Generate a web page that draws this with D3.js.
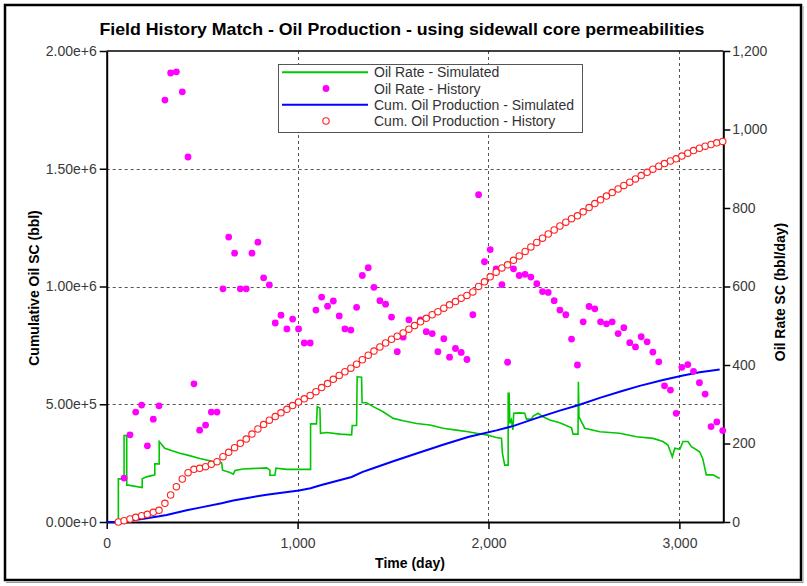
<!DOCTYPE html>
<html><head><meta charset="utf-8">
<script src="https://cdn.jsdelivr.net/npm/d3@7"></script>
<style>body{margin:0;background:#fff}svg{display:block}</style>
</head><body><svg id="c" width="807" height="586"></svg>
<script>
const chartTitle = "Field History Match - Oil Production - using sidewall core permeabilities";
const xTitle = "Time (day)";
const leftTitle = "Cumulative Oil SC (bbl)";
const rightTitle = "Oil Rate SC (bbl/day)";
const legendLabels = ["Oil Rate - Simulated","Oil Rate - History","Cum. Oil Production - Simulated","Cum. Oil Production - History"];

const xTicks = [0,1000,2000,3000];
const leftTicks = [0,500000,1000000,1500000,2000000];
const leftTickLabels = ["0.00e+0","5.00e+5","1.00e+6","1.50e+6","2.00e+6"];
const rightTicks = [0,200,400,600,800,1000,1200];

// monthly history dates (days)
const historyDays = [61,91,122,152,183,213,244,274,305,335,
 365,396,426,457,487,518,548,578,609,639,
 670,700,731,761,792,822,852,883,913,944,
 974,1005,1035,1066,1096,1126,1157,1187,1218,1248,
 1279,1309,1339,1370,1400,1431,1461,1492,1522,1553,
 1583,1613,1644,1674,1705,1735,1766,1796,1827,1857,
 1887,1918,1948,1979,2009,2040,2070,2100,2131,2161,
 2192,2222,2253,2283,2313,2344,2374,2405,2435,2466,
 2496,2527,2557,2587,2618,2648,2679,2709,2740,2770,
 2800,2831,2861,2892,2922,2953,2983,3013,3044,3074,
 3105,3135,3166,3196,3227];

// Oil rate history (bbl/day)
const rateHistory = [null,112,222,280,298,194,262,296,1075,1144,
 1147,1096,930,352,234,247,280,280,594,726,
 685,594,594,685,713,622,604,507,527,492,
 517,492,456,456,540,573,550,563,525,492,
 489,547,628,648,598,564,555,522,434,471,
 515,500,515,485,480,434,467,420,442,432,
 414,528,834,663,694,645,605,407,645,628,
 631,624,607,587,585,564,540,528,466,400,
 510,549,543,510,505,510,480,495,457,446,
 472,459,433,408,347,336,277,394,401,384,
 355,326,243,255,233];

// Cumulative oil production history (bbl)
const cumHistory = [0,5500,12700,20000,26800,32700,41200,49700,79400,114600,
 149900,182600,209300,223800,228000,234800,245000,256000,277300,296000,
 315500,334200,352300,373200,394900,413800,432200,447600,463600,478600,
 494300,509300,523200,537100,553500,570900,588000,606000,622000,638000,
 653000,670000,689000,708000,726000,743000,760000,776000,789000,803000,
 819000,834000,850000,865000,880000,893000,908000,922000,936000,950000,
 962000,977000,1000000,1020000,1041000,1061000,1079000,1092000,1111000,1130000,
 1149000,1168000,1187000,1205000,1223000,1240000,1257000,1273000,1288000,1300000,
 1317000,1335000,1352000,1368000,1384000,1399000,1414000,1429000,1443000,1457000,
 1471000,1485000,1498000,1511000,1522000,1533000,1542000,1554000,1566000,1577000,
 1587000,1596000,1603000,1610000,1616000];

// Simulated oil rate (bbl/day)
const rateSimDays = [61,61,91,91,105,105,113,186,186,209,252,252,275,275,304,339,383,419,488,558,
 602,607,646,663,672,715,838,855,855,881,887,942,1068,1068,1099,1103,1117,1120,1152,1223,
 1283,1286,1309,1312,1335,1338,1361,1396,1448,1501,1553,1623,1693,1762,1832,1893,1937,1990,2007,2037,
 2068,2073,2085,2103,2103,2108,2112,2120,2128,2132,2164,2190,2199,2225,2234,2260,2286,2321,2373,2435,
 2443,2469,2471,2474,2504,2583,2687,2775,2862,2914,2940,2963,2976,3002,3019,3045,3063,3106,3122,3141,
 3176,3211];
const rateSimValues = [0,110,110,220,220,94,94,88,110,115,120,148,148,205,188,182,175,171,162,154,
 151,132,126,122,131,135,138,132,119,119,137,134,134,250,250,294,290,226,228,224,
 222,246,246,370,369,304,304,294,281,264,258,251,247,239,234,230,226,222,220,216,
 213,175,145,145,328,328,251,260,235,277,278,277,262,262,270,277,268,260,253,240,
 224,224,357,268,239,230,226,217,213,205,196,166,188,185,205,205,192,179,162,120,
 120,111];

// Simulated cumulative oil production (bbl)
const cumSimDays = [0,61,105,186,275,314,419,488,602,663,715,838,887,1007,1068,1120,1283,1338,1396,1501,
 1623,1762,1893,2042,2132,2251,2373,2469,2583,2700,2792,2914,3019,3106,3211];
const cumSimValues = [0,0,5000,13000,24000,30000,50000,61000,80000,91000,99000,116000,121000,134000,143000,156000,191000,212000,228000,258000,
 291000,328000,361000,389000,408000,441000,473000,496000,527000,556000,578000,603000,622000,636000,648000];

const svg = d3.select("#c");
const L = 106.7, R = 723.3, T = 51, B = 522;
const x = d3.scaleLinear().domain([0,3230]).range([L,R]);
const yL = d3.scaleLinear().domain([0,2000000]).range([B,T]);
const yR = d3.scaleLinear().domain([0,1200]).range([B,T]);
const FONT = "'Liberation Sans', Arial, sans-serif";

// outer frame
svg.append("rect").attr("x",0).attr("y",0).attr("width",807).attr("height",586).attr("fill","#fff");
svg.append("rect").attr("x",5).attr("y",5).attr("width",796).attr("height",575)
  .attr("fill","none").attr("stroke","#000").attr("stroke-width",2.5);
svg.append("line").attr("x1",6).attr("x2",803).attr("y1",582.5).attr("y2",582.5).attr("stroke","#999").attr("stroke-width",1);
svg.append("line").attr("x1",803).attr("x2",803).attr("y1",6).attr("y2",583).attr("stroke","#999").attr("stroke-width",1);

// title
svg.append("text").attr("x",402).attr("y",35).attr("text-anchor","middle")
  .attr("font-family",FONT).attr("font-weight","bold").attr("font-size",17)
  .attr("textLength",605).attr("lengthAdjust","spacingAndGlyphs")
  .attr("fill","#000").text(chartTitle);

// grid
const grid = svg.append("g").attr("stroke","#555").attr("stroke-width",1).attr("stroke-dasharray","3,3");
leftTicks.filter(v=>v>0 && v<2000000).forEach(v=>{
  grid.append("line").attr("x1",L).attr("x2",R).attr("y1",Math.round(yL(v))+0.5).attr("y2",Math.round(yL(v))+0.5);
});
xTicks.filter(v=>v>0).forEach(v=>{
  grid.append("line").attr("y1",T).attr("y2",B).attr("x1",Math.round(x(v))+0.5).attr("x2",Math.round(x(v))+0.5);
});

// axes
function styleAxis(g){
  g.selectAll("text").attr("font-family",FONT).attr("font-size",14).attr("fill","#3a3a3a");
  g.selectAll("line").attr("stroke","#000").attr("stroke-width",1.5);
  g.select(".domain").attr("stroke","#000").attr("stroke-width",2);
}
svg.append("g").attr("transform",`translate(${L},0)`)
  .call(d3.axisLeft(yL).tickValues(leftTicks).tickFormat((d,i)=>leftTickLabels[i]).tickSize(7).tickSizeOuter(0).tickPadding(3))
  .call(styleAxis);
svg.append("g").attr("transform",`translate(${R},0)`)
  .call(d3.axisRight(yR).tickValues(rightTicks).tickFormat(d3.format(",")).tickSize(7).tickSizeOuter(0).tickPadding(2))
  .call(styleAxis);
svg.append("g").attr("transform",`translate(0,${B})`)
  .call(d3.axisBottom(x).tickValues(xTicks).tickFormat(d3.format(",")).tickSize(7).tickSizeOuter(0).tickPadding(9))
  .call(styleAxis);
svg.append("line").attr("x1",L).attr("x2",R).attr("y1",T).attr("y2",T).attr("stroke","#000").attr("stroke-width",1.5);

// axis titles
svg.append("text").attr("x",410).attr("y",568).attr("text-anchor","middle")
  .attr("font-family",FONT).attr("font-weight","bold").attr("font-size",14).text(xTitle);
svg.append("text").attr("transform","translate(39,288) rotate(-90)").attr("text-anchor","middle")
  .attr("font-family",FONT).attr("font-weight","bold").attr("font-size",14).text(leftTitle);
svg.append("text").attr("transform","translate(785,292) rotate(-90)").attr("text-anchor","middle")
  .attr("font-family",FONT).attr("font-weight","bold").attr("font-size",14).text(rightTitle);

const plot = svg.append("g");
// simulated rate
const rateSim = rateSimDays.map((d,i)=>[d,rateSimValues[i]]);
plot.append("path").datum(rateSim)
  .attr("d", d3.line().x(d=>x(d[0])).y(d=>yR(d[1])))
  .attr("fill","none").attr("stroke","#00c800").attr("stroke-width",1.6);
// simulated cum
const cumSim = cumSimDays.map((d,i)=>[d,cumSimValues[i]]);
plot.append("path").datum(cumSim)
  .attr("d", d3.line().x(d=>x(d[0])).y(d=>yL(d[1])))
  .attr("fill","none").attr("stroke","#0000ff").attr("stroke-width",2);
// history rate dots
const rateH = historyDays.map((d,i)=>[d,rateHistory[i]]).filter(d=>d[1]!=null);
plot.selectAll("circle.rh").data(rateH).enter().append("circle").attr("class","rh")
  .attr("cx",d=>x(d[0])).attr("cy",d=>yR(d[1])).attr("r",3.4).attr("fill","#ff00ff");
// history cum circles
const cumH = historyDays.map((d,i)=>[d,cumHistory[i]]);
plot.selectAll("circle.ch").data(cumH).enter().append("circle").attr("class","ch")
  .attr("cx",d=>x(d[0])).attr("cy",d=>yL(d[1])).attr("r",3.2)
  .attr("fill","#fff").attr("stroke","#ff2020").attr("stroke-width",1.1);

// legend
const lg = svg.append("g");
lg.append("rect").attr("x",278.5).attr("y",64.5).attr("width",304).attr("height",68)
  .attr("fill","#fff").attr("stroke","#555").attr("stroke-width",1);
const rowsY = [72.3,88.5,104.8,121];
lg.append("line").attr("x1",282).attr("x2",368).attr("y1",rowsY[0]).attr("y2",rowsY[0]).attr("stroke","#00c800").attr("stroke-width",2);
lg.append("circle").attr("cx",326).attr("cy",rowsY[1]).attr("r",3.4).attr("fill","#ff00ff");
lg.append("line").attr("x1",282).attr("x2",368).attr("y1",rowsY[2]).attr("y2",rowsY[2]).attr("stroke","#0000ff").attr("stroke-width",2);
lg.append("circle").attr("cx",326).attr("cy",rowsY[3]).attr("r",3.2).attr("fill","#fff").attr("stroke","#ff2020").attr("stroke-width",1.1);
legendLabels.forEach((t,i)=>{
  lg.append("text").attr("x",374).attr("y",rowsY[i]+5).attr("font-family",FONT).attr("font-size",14)
    .attr("fill","#333").text(t);
});
</script></body></html>
